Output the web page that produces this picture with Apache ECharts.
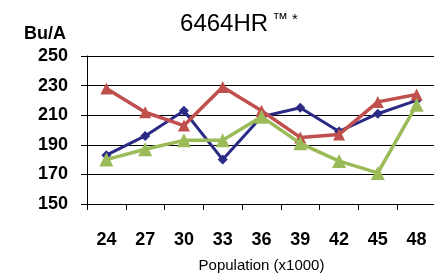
<!DOCTYPE html>
<html>
<head>
<meta charset="utf-8">
<script src="https://cdn.jsdelivr.net/npm/echarts@6/dist/echarts.min.js"></script>
<style>
html, body { margin: 0; padding: 0; background: #fff; }
#chart { width: 434px; height: 276px; }
</style>
</head>
<body>
<div id="chart"></div>
<script>
var myChart = echarts.init(document.getElementById('chart'));

var populations = ['24', '27', '30', '33', '36', '39', '42', '45', '48'];
var blueValues = [183, 196, 213, 180, 209, 215, 199, 211, 220];
var redValues = [228, 212, 203, 229, 213, 195, 197, 219, 224];
var greenValues = [180, 187, 193, 193, 209, 191, 179, 171, 217];

var option = {
    backgroundColor: '#fff',
    animation: false,
    title: {
        text: '{a|6464HR}{b|\u2122}{c|*}',
        left: 234,
        textAlign: 'center',
        top: 7,
        textStyle: {
            fontWeight: 'normal',
            rich: {
                a: { fontFamily: 'Liberation Sans', fontSize: 24, fontWeight: 'normal', color: '#000', verticalAlign: 'bottom' },
                b: { fontFamily: 'Liberation Sans', fontSize: 16, fontWeight: 'normal', color: '#000', verticalAlign: 'top', padding: [0, 0, 0, 4] },
                c: { fontFamily: 'Liberation Sans', fontSize: 15, fontWeight: 'normal', color: '#000', verticalAlign: 'top', padding: [0, 0, 0, 4] }
            }
        }
    },
    grid: {
        left: 87,
        right: -2,
        top: 56,
        bottom: 72,
        outerBoundsMode: 'none'
    },
    xAxis: {
        type: 'category',
        data: populations,
        name: 'Population (x1000)',
        nameLocation: 'middle',
        nameGap: 54,
        nameTextStyle: {
            fontFamily: 'Liberation Sans',
            fontSize: 15,
            color: '#000'
        },
        axisLine: { lineStyle: { color: '#000', width: 1 } },
        axisTick: { show: true, length: 6, lineStyle: { color: '#000' } },
        axisLabel: {
            margin: 27,
            fontFamily: 'Liberation Sans',
            fontSize: 18,
            fontWeight: 'bold',
            color: '#000'
        }
    },
    yAxis: {
        type: 'value',
        min: 150,
        max: 250,
        interval: 20,
        name: 'Bu/A',
        nameLocation: 'end',
        nameGap: 13,
        nameTextStyle: {
            fontFamily: 'Liberation Sans',
            fontSize: 18,
            fontWeight: 'bold',
            color: '#000',
            align: 'right',
            padding: [0, 21, 0, 0]
        },
        axisLine: { show: true, lineStyle: { color: '#000' } },
        axisTick: { show: true, length: 6, lineStyle: { color: '#000' } },
        splitLine: { lineStyle: { color: '#000', width: 1 } },
        axisLabel: {
            margin: 19,
            fontFamily: 'Liberation Sans',
            fontSize: 18,
            fontWeight: 'bold',
            color: '#000'
        }
    },
    series: [
        {
            name: 'blue',
            type: 'line',
            data: blueValues,
            symbol: 'diamond',
            symbolSize: 10,
            lineStyle: { color: '#2b2b85', width: 3 },
            itemStyle: { color: '#2b2b85' },
            z: 3
        },
        {
            name: 'red',
            type: 'line',
            data: redValues,
            symbol: 'triangle',
            symbolSize: 12,
            lineStyle: { color: '#c0504d', width: 3.5 },
            itemStyle: { color: '#c0504d' },
            z: 4
        },
        {
            name: 'green',
            type: 'line',
            data: greenValues,
            symbol: 'triangle',
            symbolSize: 14,
            lineStyle: { color: '#9bbb59', width: 3.5 },
            itemStyle: { color: '#9bbb59' },
            z: 5
        }
    ]
};
myChart.setOption(option);
</script>
</body>
</html>
